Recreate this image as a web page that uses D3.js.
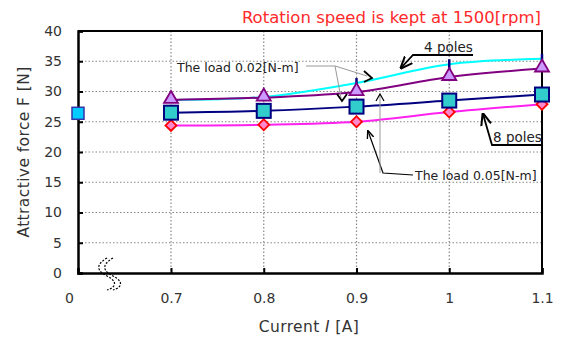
<!DOCTYPE html>
<html>
<head>
<meta charset="utf-8">
<script src="https://cdn.jsdelivr.net/npm/d3@7"></script>
<style>
body { margin: 0; background: #fff; }
text { font-family: "DejaVu Sans", "Liberation Sans", sans-serif; }
</style>
</head>
<body>
<svg width="564" height="340"></svg>
<script>
var currents = [0.7, 0.8, 0.9, 1.0, 1.1];
var xTicks = [0, 0.7, 0.8, 0.9, 1.0, 1.1];
var yTicks = [0, 5, 10, 15, 20, 25, 30, 35, 40];

// 4 poles
var cyan4p = [28.6, 29.1, 31.4, 34.5, 35.4];     // load 0.02
var purple4p = [28.6, 29.0, 29.9, 32.4, 33.8];   // load 0.05
// 8 poles
var navy8p = [26.5, 26.8, 27.5, 28.5, 29.5];     // load 0.02
var pink8p = [24.4, 24.5, 25.0, 26.6, 27.9];     // load 0.05
var zeroPoint = { x: 0, y: 26.4 };

var svg = d3.select('svg');
var margin = { left: 78, right: 22, top: 31, bottom: 67 };
var width = +svg.attr('width');
var height = +svg.attr('height');

// broken axis: 0 sits one division left of 0.7
var x = d3.scaleLinear()
    .domain([0, 0.7, 1.1])
    .range([margin.left, margin.left + 93, width - margin.right]);
var y = d3.scaleLinear()
    .domain([0, 40])
    .range([height - margin.bottom, margin.top]);

var defs = svg.append('defs');
defs.append('marker')
    .attr('id', 'arr')
    .attr('viewBox', '0 0 10 10')
    .attr('refX', 9).attr('refY', 5)
    .attr('markerWidth', 7).attr('markerHeight', 7)
    .attr('orient', 'auto')
    .append('path')
    .attr('d', 'M0,1 L10,5 L0,9')
    .attr('fill', 'none')
    .attr('stroke', '#000')
    .attr('stroke-width', 1.6);

// grid
var grid = svg.append('g').attr('class', 'grid');
grid.selectAll('.hgrid')
    .data(yTicks.filter(function(d) { return d > 0 && d < 40; }))
    .enter().append('line')
    .attr('x1', x(0)).attr('x2', x(1.1))
    .attr('y1', function(d) { return y(d); })
    .attr('y2', function(d) { return y(d); })
    .attr('stroke', '#888').attr('stroke-width', 1.2)
    .attr('stroke-dasharray', '1.5,2');
grid.selectAll('.vgrid')
    .data([0.7, 0.8, 0.9, 1.0])
    .enter().append('line')
    .attr('x1', function(d) { return x(d); })
    .attr('x2', function(d) { return x(d); })
    .attr('y1', y(40)).attr('y2', y(0))
    .attr('stroke', '#888').attr('stroke-width', 1.2)
    .attr('stroke-dasharray', '1.5,2');

// axes
var xAxis = d3.axisBottom(x)
    .tickValues(xTicks)
    .tickSize(-5)
    .tickPadding(20)
    .tickFormat(function(d) { return d3.format('')(+d.toFixed(1)); });
var gx = svg.append('g')
    .attr('transform', 'translate(0,' + y(0) + ')')
    .call(xAxis);
gx.select('.domain').attr('stroke', '#000').attr('stroke-width', 2.5);
gx.selectAll('.tick line').attr('stroke', '#000').attr('stroke-width', 2);
gx.selectAll('.tick text')
    .attr('font-family', 'DejaVu Sans')
    .attr('font-size', 14).attr('fill', '#333')
    .attr('dx', function(d) { return d === 0 ? -9 : 0; });

var yAxis = d3.axisLeft(y)
    .tickValues(yTicks)
    .tickSize(-5)
    .tickPadding(16);
var gy = svg.append('g')
    .attr('transform', 'translate(' + x(0) + ',0)')
    .call(yAxis);
gy.select('.domain').attr('stroke', '#000').attr('stroke-width', 2.5);
gy.selectAll('.tick line').attr('stroke', '#000').attr('stroke-width', 2);
gy.selectAll('.tick text')
    .attr('font-family', 'DejaVu Sans')
    .attr('font-size', 14).attr('fill', '#333');

// top and right frame
svg.append('path')
    .attr('d', 'M' + x(0) + ',' + y(40) + 'H' + x(1.1) + 'V' + y(0))
    .attr('fill', 'none').attr('stroke', '#000').attr('stroke-width', 2);

// axis break
[0, 6].forEach(function(off) {
    var bx = x(0) + 29 + off, by = y(0);
    svg.append('path')
        .attr('d', 'M' + bx + ',' + (by - 15) +
              ' C' + (bx - 12) + ',' + (by - 8) + ' ' + (bx - 10) + ',' + (by - 2) + ' ' + bx + ',' + (by + 3) +
              ' S' + (bx + 10) + ',' + (by + 14) + ' ' + bx + ',' + (by + 17))
        .attr('fill', 'none').attr('stroke', '#000').attr('stroke-width', 1.2)
        .attr('stroke-dasharray', '2,1.5');
});

// series lines
var line = d3.line()
    .x(function(d, i) { return x(currents[i]); })
    .y(function(d) { return y(d); })
    .curve(d3.curveCatmullRom.alpha(0.5));

svg.append('path').datum(pink8p).attr('d', line)
    .attr('fill', 'none').attr('stroke', '#ff22ee').attr('stroke-width', 2);
svg.append('path').datum(navy8p).attr('d', line)
    .attr('fill', 'none').attr('stroke', '#000080').attr('stroke-width', 2);
svg.append('path').datum(cyan4p).attr('d', line)
    .attr('fill', 'none').attr('stroke', '#00ffff').attr('stroke-width', 2);
svg.append('path').datum(purple4p).attr('d', line)
    .attr('fill', 'none').attr('stroke', '#800080').attr('stroke-width', 2);

// cyan markers (short vertical bars)
svg.selectAll('.cbar')
    .data(cyan4p.slice(2))
    .enter().append('line')
    .attr('x1', function(d, i) { return x(currents[i + 2]); })
    .attr('x2', function(d, i) { return x(currents[i + 2]); })
    .attr('y1', function(d) { return y(d) - 5; })
    .attr('y2', function(d) { return y(d) + 9; })
    .attr('stroke', '#000080').attr('stroke-width', 2.5);

// markers
var sym = d3.symbol();
svg.selectAll('.dia')
    .data(pink8p).enter().append('path')
    .attr('transform', function(d, i) { return 'translate(' + x(currents[i]) + ',' + y(d) + ') rotate(45)'; })
    .attr('d', sym.type(d3.symbolSquare).size(60))
    .attr('fill', '#ff88cc').attr('stroke', '#ff0000').attr('stroke-width', 1.8);

svg.selectAll('.sq')
    .data(navy8p).enter().append('rect')
    .attr('x', function(d, i) { return x(currents[i]) - 7; })
    .attr('y', function(d) { return y(d) - 7; })
    .attr('width', 14).attr('height', 14)
    .attr('fill', '#33cccc').attr('stroke', '#000080').attr('stroke-width', 2);

svg.append('rect')
    .attr('x', x(zeroPoint.x) - 6).attr('y', y(zeroPoint.y) - 6)
    .attr('width', 12).attr('height', 12)
    .attr('fill', '#00ccff').attr('stroke', '#3333aa').attr('stroke-width', 1.5);

svg.selectAll('.tri')
    .data(purple4p).enter().append('path')
    .attr('transform', function(d, i) { return 'translate(' + x(currents[i]) + ',' + (y(d) - 2) + ')'; })
    .attr('d', 'M0,-7 L7,5 L-7,5 Z')
    .attr('fill', '#cc99ff').attr('stroke', '#800080').attr('stroke-width', 1.8);

// title
svg.append('text')
    .attr('x', 541).attr('y', 23)
    .attr('text-anchor', 'end')
    .attr('font-size', 16.5).attr('fill', '#ff2a2a')
    .text('Rotation speed is kept at 1500[rpm]');

// axis titles
var xt = svg.append('text')
    .attr('x', 309).attr('y', 332)
    .attr('text-anchor', 'middle')
    .attr('font-size', 15.5).attr('fill', '#333')
    .attr('letter-spacing', 0.4);
xt.append('tspan').text('Current ');
xt.append('tspan').attr('font-style', 'italic').text('I');
xt.append('tspan').text(' [A]');

svg.append('text')
    .attr('transform', 'translate(29,' + 152 + ') rotate(-90)')
    .attr('text-anchor', 'middle')
    .attr('font-size', 15.5).attr('fill', '#333')
    .attr('letter-spacing', 0.4)
    .text('Attractive force F [N]');

// annotations
var ann = svg.append('g').attr('font-size', 12.5).attr('fill', '#222');
ann.append('text').attr('x', 177).attr('y', 72).text('The load 0.02[N-m]');
ann.append('path')
    .attr('d', 'M306,66 L335,66 L341,98')
    .attr('fill', 'none').attr('stroke', '#999').attr('stroke-width', 1)
ann.append('path')
    .attr('d', 'M335,66 L367,76')
    .attr('fill', 'none').attr('stroke', '#999').attr('stroke-width', 1);
ann.append('path').attr('d', 'M337,94 L342,101 L347,94')
    .attr('fill', 'none').attr('stroke', '#000').attr('stroke-width', 1.8);
ann.append('path').attr('d', 'M364,71 L372,78 L364,82')
    .attr('fill', 'none').attr('stroke', '#000').attr('stroke-width', 1.8);

ann.append('text').attr('x', 415).attr('y', 180).text('The load 0.05[N-m]');
ann.append('path')
    .attr('d', 'M413,175 L383,173 L368,131')
    .attr('fill', 'none').attr('stroke', '#000').attr('stroke-width', 1.2)
    .attr('marker-end', 'url(#arr)');
ann.append('path')
    .attr('d', 'M380,173 L380,95')
    .attr('fill', 'none').attr('stroke', '#999').attr('stroke-width', 1);
ann.append('path').attr('d', 'M376,101 L380,94 L384,101')
    .attr('fill', 'none').attr('stroke', '#000').attr('stroke-width', 1.2);

ann.append('text').attr('x', 424).attr('y', 52).attr('font-size', 13.5).text('4 poles');
ann.append('path')
    .attr('d', 'M473,55 L413,55 L401,68')
    .attr('fill', 'none').attr('stroke', '#000').attr('stroke-width', 1.8)
    .attr('marker-end', 'url(#arr)');

ann.append('text').attr('x', 493).attr('y', 142).attr('font-size', 13.5).text('8 poles');
ann.append('path')
    .attr('d', 'M541,145 L492,145 L483,114')
    .attr('fill', 'none').attr('stroke', '#000').attr('stroke-width', 1.8)
    .attr('marker-end', 'url(#arr)');
</script>
</body>
</html>
